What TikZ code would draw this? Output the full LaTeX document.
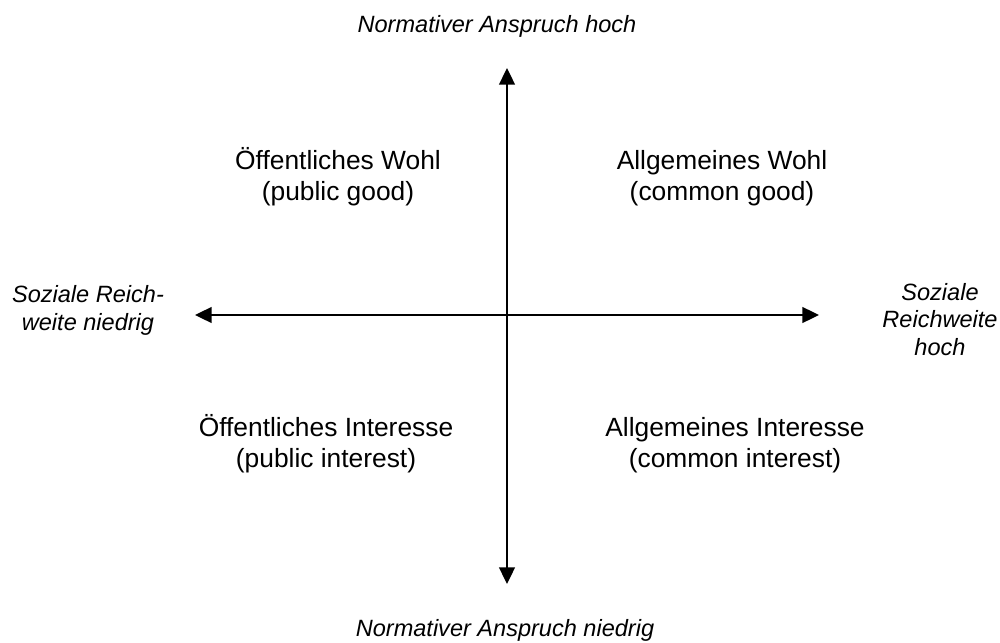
\documentclass[tikz,border=0pt]{standalone}
\usepackage{fontspec}
\setmainfont{Liberation Sans}
\usetikzlibrary{arrows.meta, positioning}
\tikzset{
  every picture/.style={line width=1.1pt},
  quadtext/.style={align=center, inner sep=0pt, anchor=base, font=\fontsize{15}{17.2}\selectfont},
  axislabel/.style={align=center, inner sep=0pt, anchor=base, font=\fontsize{13.4}{15.4}\selectfont\itshape},
  axis/.style={{Triangle[length=9.5pt, width=9pt]}-{Triangle[length=9.5pt, width=9pt]}, line width=1.1pt},
}
\begin{document}
\begin{tikzpicture}[x=0.02cm, y=-0.02cm]
  \useasboundingbox (0,0) rectangle (1000,642);
  \coordinate (top) at (507,68);
  \coordinate (bottom) at (507,584);
  \coordinate (left) at (195,315);
  \coordinate (right) at (819,315);
  \draw[axis] (bottom) -- (top);
  \draw[axis] (left) -- (right);
  \node[axislabel] (hoch) at (497,33) {Normativer Anspruch hoch};
  \node[axislabel] (niedrig) at (505,636) {Normativer Anspruch niedrig};
  \node[axislabel] (enger) at (88,330) {Soziale Reich-\\weite niedrig};
  \node[axislabel] (weiter) at (940,355) {Soziale\\Reichweite\\hoch};
  \node[quadtext] (pubgood) at (338,200) {Öffentliches Wohl\\(public good)};
  \node[quadtext] (comgood) at (722,200) {Allgemeines Wohl\\(common good)};
  \node[quadtext] (pubint) at (326,467) {Öffentliches Interesse\\(public interest)};
  \node[quadtext] (comint) at (735,467) {Allgemeines Interesse\\(common interest)};
\end{tikzpicture}
\end{document}
